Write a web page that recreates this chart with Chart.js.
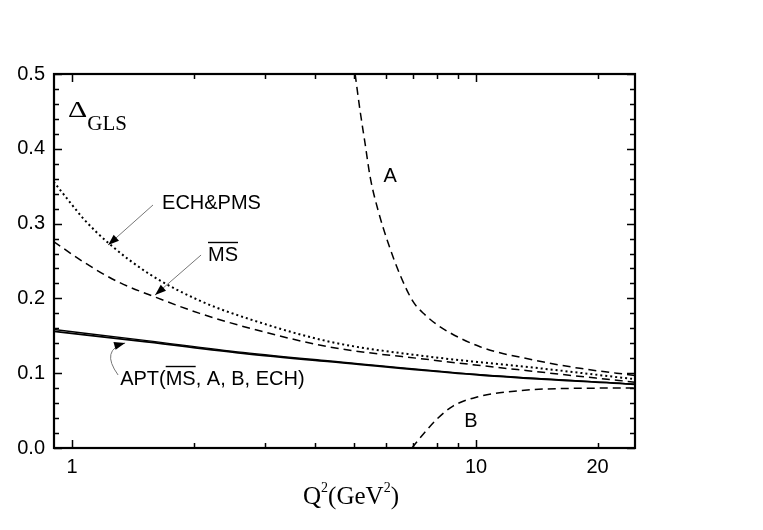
<!DOCTYPE html>
<html>
<head>
<meta charset="utf-8">
<script src="https://cdn.jsdelivr.net/npm/chart.js@4/dist/chart.umd.min.js"></script>
<style>
  html, body { margin: 0; padding: 0; background: #fff; }
  #wrap { width: 763px; height: 530px; }
</style>
</head>
<body>
<div id="wrap"><canvas id="c" width="763" height="530"></canvas></div>
<script>
// Q^2 (GeV^2) samples and Delta_GLS values
const echQ = [0.9, 1.0, 1.065, 1.23, 1.56, 2.07, 2.76, 4.35, 7.69, 13.6, 24.75];
const echDelta = [0.356, 0.325, 0.307, 0.274, 0.232, 0.197, 0.172, 0.142, 0.122, 0.108, 0.092];

const msQ = [0.9, 1.065, 1.29, 1.62, 2.07, 2.76, 4.35, 7.69, 13.6, 24.75];
const msDelta = [0.276, 0.249, 0.223, 0.201, 0.180, 0.160, 0.135, 0.118, 0.103, 0.088];

const aptQ = [0.9, 1.53, 2.65, 4.35, 10.23, 24.75];
const aptDelta = [0.156, 0.142, 0.1266, 0.1154, 0.0976, 0.085];
const aptDelta2 = [0.1585, 0.1435, 0.1278, 0.1163, 0.0981, 0.0853];

const aQ = [5.02, 5.16, 5.31, 5.47, 5.72, 6.06, 6.48, 6.98, 7.48, 8.15, 10.23, 13.6, 18.08, 24.75];
const aDelta = [0.50, 0.452, 0.408, 0.362, 0.318, 0.274, 0.232, 0.196, 0.178, 0.162, 0.1354, 0.1186, 0.1065, 0.097];

const bQ = [6.94, 7.48, 8.01, 8.77, 10.06, 11.93, 16.14, 24.75];
const bDelta = [0.0, 0.0214, 0.0388, 0.0561, 0.0682, 0.0749, 0.0795, 0.0802];

// axis ticks
const xTicks = [1, 2, 3, 4, 5, 6, 7, 8, 9, 10, 20];
const xMajorTicks = [1, 10];
const xTickLabels = ['1', '10', '20'];
const yTickLabels = ['0.0', '0.1', '0.2', '0.3', '0.4', '0.5'];

const xMin = 0.902, xMax = 24.75;

function pts(qs, ds) {
  return qs.map((q, i) => ({ x: q, y: ds[i] }));
}

// annotation text / arrows in data coordinates
const labels = [
  { text: 'ECH&PMS', q: 1.67, d: 0.3195 },
  { text: 'MS', q: 2.17, d: 0.25, bar: [0, 2] },
  { text: 'A', q: 6.13, d: 0.3556, center: true },
  { text: 'B', q: 9.72, d: 0.0281, center: true },
  { text: 'APT(MS, A, B, ECH)', q: 1.315, d: 0.0842, bar: [4, 6] }
];
const arrows = [
  { from: [1.586, 0.3249], to: [1.228, 0.2714] },
  { from: [2.086, 0.258], to: [1.605, 0.2045] },
  { from: [1.2998, 0.0976], via: [1.173, 0.131], to: [1.353, 0.1404] }
];

const SANS = '"Liberation Sans", Arial, sans-serif';
const SERIF = '"Liberation Serif", "Times New Roman", serif';

const figurePlugin = {
  id: 'figure',
  afterDraw(chart) {
    const ctx = chart.ctx;
    const a = chart.chartArea;
    const xs = chart.scales.x, ys = chart.scales.y;
    const px = (q) => xs.getPixelForValue(q);
    const py = (d) => ys.getPixelForValue(d);
    ctx.save();

    // frame
    ctx.strokeStyle = '#000';
    ctx.lineWidth = 2.2;
    ctx.strokeRect(a.left, a.top, a.right - a.left, a.bottom - a.top);

    // inward ticks on all four sides
    ctx.lineWidth = 1.5;
    ctx.beginPath();
    xTicks.forEach((q) => {
      const x = Math.round(px(q)) + 0.5;
      const len = xMajorTicks.includes(q) ? 8 : 5;
      ctx.moveTo(x, a.bottom); ctx.lineTo(x, a.bottom - len);
      ctx.moveTo(x, a.top); ctx.lineTo(x, a.top + len);
    });
    for (let i = 0; i <= 25; i++) {
      const y = Math.round(py(i * 0.02)) + 0.5;
      const len = i % 5 === 0 ? 8 : 5;
      ctx.moveTo(a.left, y); ctx.lineTo(a.left + len, y);
      ctx.moveTo(a.right, y); ctx.lineTo(a.right - len, y);
    }
    ctx.stroke();

    // tick labels
    ctx.fillStyle = '#000';
    ctx.font = `20px ${SANS}`;
    ctx.textAlign = 'center';
    ctx.textBaseline = 'middle';
    xTickLabels.forEach((t) => ctx.fillText(t, px(Number(t)), a.bottom + 19));
    ctx.textAlign = 'right';
    yTickLabels.forEach((t) => ctx.fillText(t, a.left - 9, py(Number(t))));

    // axis title Q^2(GeV^2)
    ctx.textBaseline = 'alphabetic';
    ctx.textAlign = 'left';
    const parts = [['Q', 0], ['2', 1], ['(GeV', 0], ['2', 1], [')', 0]];
    const big = `25px ${SERIF}`, small = `14px ${SERIF}`;
    let w = 0;
    parts.forEach(([s, sup]) => { ctx.font = sup ? small : big; w += ctx.measureText(s).width; });
    let tx = 351 - w / 2;
    const tb = a.bottom + 56;
    parts.forEach(([s, sup]) => {
      ctx.font = sup ? small : big;
      ctx.fillText(s, tx, sup ? tb - 12 : tb);
      tx += ctx.measureText(s).width;
    });

    // Delta_GLS (wide delta)
    const dx = px(0.977), dy = py(0.4425);
    ctx.font = `23px ${SERIF}`;
    const dw = ctx.measureText('\u0394').width * 1.3;
    ctx.save();
    ctx.translate(dx, dy);
    ctx.scale(1.3, 1);
    ctx.fillText('\u0394', 0, 0);
    ctx.restore();
    ctx.font = `21px ${SERIF}`;
    ctx.fillText('GLS', dx + dw, py(0.4251));

    // curve labels
    ctx.font = `20px ${SANS}`;
    labels.forEach((l) => {
      const x = px(l.q), y = py(l.d);
      ctx.textAlign = l.center ? 'center' : 'left';
      ctx.fillText(l.text, x, y);
      if (l.bar) {
        const x0 = x + ctx.measureText(l.text.slice(0, l.bar[0])).width;
        const x1 = x + ctx.measureText(l.text.slice(0, l.bar[1])).width;
        ctx.lineWidth = 1.4;
        ctx.beginPath();
        ctx.moveTo(x0, y - 18.5); ctx.lineTo(x1, y - 18.5);
        ctx.stroke();
      }
    });

    // pointer arrows
    arrows.forEach((ar) => {
      const x0 = px(ar.from[0]), y0 = py(ar.from[1]);
      const x1 = px(ar.to[0]), y1 = py(ar.to[1]);
      ctx.strokeStyle = '#777';
      ctx.lineWidth = 1;
      ctx.beginPath();
      ctx.moveTo(x0, y0);
      let ang;
      if (ar.via) {
        const cx = px(ar.via[0]), cy = py(ar.via[1]);
        ctx.quadraticCurveTo(cx, cy, x1, y1);
        ang = Math.atan2(y1 - cy, x1 - cx);
      } else {
        ctx.lineTo(x1, y1);
        ang = Math.atan2(y1 - y0, x1 - x0);
      }
      ctx.stroke();
      const L = 11, H = 4;
      ctx.fillStyle = '#000';
      ctx.beginPath();
      ctx.moveTo(x1, y1);
      ctx.lineTo(x1 - L * Math.cos(ang) + H * Math.sin(ang), y1 - L * Math.sin(ang) - H * Math.cos(ang));
      ctx.lineTo(x1 - L * Math.cos(ang) - H * Math.sin(ang), y1 - L * Math.sin(ang) + H * Math.cos(ang));
      ctx.closePath();
      ctx.fill();
    });

    ctx.restore();
  }
};

const line = (data, dash, width) => ({
  data,
  borderColor: '#000',
  borderWidth: width,
  borderDash: dash,
  pointRadius: 0,
  fill: false,
  cubicInterpolationMode: 'monotone'
});

new Chart(document.getElementById('c').getContext('2d'), {
  type: 'line',
  data: {
    datasets: [
      line(pts(echQ, echDelta), [2, 3], 2),
      line(pts(msQ, msDelta), [8, 5], 1.5),
      line(pts(aptQ, aptDelta), [], 1.8),
      line(pts(aptQ, aptDelta2), [], 1.4),
      line(pts(aQ, aDelta), [8, 5], 1.5),
      line(pts(bQ, bDelta), [8, 5], 1.5)
    ]
  },
  options: {
    responsive: false,
    animation: false,
    devicePixelRatio: 1,
    layout: { padding: { left: 54, right: 128, top: 74, bottom: 82 } },
    plugins: { legend: { display: false }, tooltip: { enabled: false }, title: { display: false } },
    scales: {
      x: { type: 'logarithmic', min: xMin, max: xMax, display: false },
      y: { type: 'linear', min: 0, max: 0.5, display: false }
    }
  },
  plugins: [figurePlugin]
});
</script>
</body>
</html>
